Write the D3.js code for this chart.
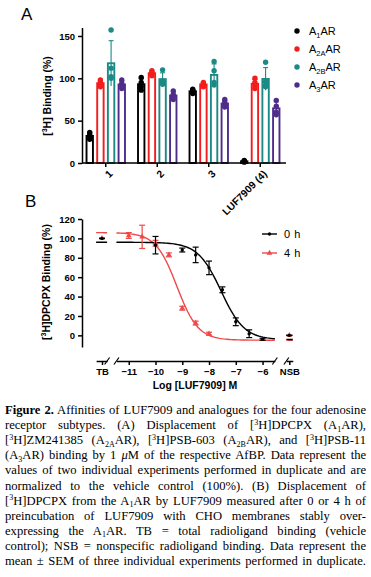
<!DOCTYPE html>
<html>
<head>
<meta charset="utf-8">
<script src="https://cdn.jsdelivr.net/npm/d3@7"></script>
<style>
  body { margin: 0; background: #fff; }
  svg { display: block; }
</style>
</head>
<body>
<div id="fig"></div>
<script>
// ---- panel A: single-point binding (%), individual replicates per bar
const compounds = ["1", "2", "3", "LUF7909 (4)"];
const receptors = ["A1AR", "A2AAR", "A2BAR", "A3AR"];
const receptorSubs = ["1", "2A", "2B", "3"];
const dotsA1 = [[28, 31, 33, 36], [86, 90, 95, 101], [82, 84, 86, 87], [1, 2, 2, 3]];
const dotsA2A = [[90, 93, 96, 98], [103, 105, 107, 109], [90, 92, 94, 95], [88, 91, 95, 100]];
const dotsA2B = [[100, 102, 112, 157], [93, 96, 97, 110], [92, 95, 109, 120], [90, 92, 96, 119]];
const dotsA3 = [[88, 91, 94, 98], [75, 78, 81, 85], [66, 68, 72, 75], [57, 60, 67, 74]];
const ticksA = [0, 50, 100, 150];

// ---- panel B: displacement curves
const logConc0h = [-10, -9, -8.5, -8, -7.5, -7, -6.5, -6];
const binding0h = [93, 88, 83, 69.6, 47, 14, 1.7, -4];
const sem0h = [9, 2, 8, 7, 3, 4, 4, 1];
const logConc4h = [-11, -10.5, -10, -9.5, -9, -8.5, -8];
const binding4h = [103, 101.6, 95, 83, 28, 12.7, 1.7];
const sem4h = [3, 12, 3, 2, 2, 2, 1.5];
const tbBinding = [100, 100];   // 0 h, 4 h
const nsbBinding = [0, 0];
const fit0h = { top: 96, bottom: -4.5, logIC50: -7.55, hill: 1 };
const fit4h = { top: 106, bottom: -5, logIC50: -9.2, hill: 1.1 };
const ticksBy = [0, 20, 40, 60, 80, 100, 120];
const ticksBx = [-11, -10, -9, -8, -7, -6];
const seriesB = ["0 h", "4 h"];

// ---- caption lines: [text, style]
const caption = [
  [["Figure 2.", "b"], [" Affinities of LUF7909 and analogues for the four adenosine", ""]],
  [["receptor subtypes. (A) Displacement of [", ""], ["3", "sup"], ["H]DPCPX (A", ""], ["1", "sub"], ["AR),", ""]],
  [["[", ""], ["3", "sup"], ["H]ZM241385 (A", ""], ["2A", "sub"], ["AR), [", ""], ["3", "sup"], ["H]PSB-603 (A", ""], ["2B", "sub"], ["AR), and [", ""], ["3", "sup"], ["H]PSB-11", ""]],
  [["(A", ""], ["3", "sub"], ["AR) binding by 1 ", ""], ["μ", "i"], ["M of the respective AfBP. Data represent the", ""]],
  [["values of two individual experiments performed in duplicate and are", ""]],
  [["normalized to the vehicle control (100%). (B) Displacement of", ""]],
  [["[", ""], ["3", "sup"], ["H]DPCPX from the A", ""], ["1", "sub"], ["AR by LUF7909 measured after 0 or 4 h of", ""]],
  [["preincubation of LUF7909 with CHO membranes stably over-", ""]],
  [["expressing the A", ""], ["1", "sub"], ["AR. TB = total radioligand binding (vehicle", ""]],
  [["control); NSB = nonspecific radioligand binding. Data represent the", ""]],
  [["mean ± SEM of three individual experiments performed in duplicate.", ""]]
];

const colorsA = ["#000000", "#f21d1d", "#1b8a86", "#4f2c8a"];
const colorsB = ["#000000", "#ef4848"];
const sans = "'Liberation Sans', Arial, sans-serif";

const svg = d3.select("#fig").append("svg")
    .attr("width", 371).attr("height", 577)
    .style("font-family", sans);

// =============== Panel A ===============
const dotsA = [dotsA1, dotsA2A, dotsA2B, dotsA3];
const barsA = [];
compounds.forEach((c, gi) => {
  receptors.forEach((r, ri) => {
    const vals = dotsA[ri][gi];
    barsA.push({ c, ri, vals, mean: d3.mean(vals), sd: d3.deviation(vals) });
  });
});

const xA = d3.scaleBand().domain(compounds).range([80, 286]);
const xInner = d3.scaleBand().domain(d3.range(4)).range([-23.5, 23.5]).padding(0.4);
const yA = d3.scaleLinear().domain([0, 160]).range([163, 27.5]);

svg.append("text").attr("x", 21).attr("y", 20)
    .attr("font-size", 17).text("A");

const gA = svg.append("g");
const barCx = d => xA(d.c) + xA.bandwidth() / 2 + xInner(d.ri) + xInner.bandwidth() / 2;

gA.selectAll("rect.bar").data(barsA).enter().append("rect")
    .attr("class", "bar")
    .attr("x", d => barCx(d) - xInner.bandwidth() / 2)
    .attr("width", xInner.bandwidth())
    .attr("y", d => yA(d.mean))
    .attr("height", d => yA(0) - yA(d.mean))
    .attr("fill", "#fff")
    .attr("stroke", d => colorsA[d.ri])
    .attr("stroke-width", 1.9);

const errA = gA.selectAll("g.err").data(barsA).enter().append("g")
    .attr("stroke", d => colorsA[d.ri]).attr("stroke-width", 1.1);
errA.append("line")
    .attr("x1", barCx).attr("x2", barCx)
    .attr("y1", d => yA(Math.max(0, d.mean - d.sd))).attr("y2", d => yA(d.mean + d.sd));
errA.append("line")
    .attr("x1", d => barCx(d) - 2.5).attr("x2", d => barCx(d) + 2.5)
    .attr("y1", d => yA(d.mean + d.sd)).attr("y2", d => yA(d.mean + d.sd));

gA.selectAll("g.dots").data(barsA).enter().append("g")
  .selectAll("circle").data(d => d.vals.map(v => ({ v, d }))).enter().append("circle")
    .attr("cx", p => barCx(p.d))
    .attr("cy", p => yA(p.v))
    .attr("r", 2.7)
    .attr("fill", p => colorsA[p.d.ri]);

const axA_y = svg.append("g").attr("transform", "translate(82,0)")
    .call(d3.axisLeft(yA).tickValues(ticksA).tickSize(4).tickSizeOuter(0));
const axA_x = svg.append("g").attr("transform", "translate(0,163)")
    .call(d3.axisBottom(xA).tickSize(4).tickSizeOuter(0));
axA_x.select(".domain").attr("d", "M82,0H286");

[axA_x, axA_y].forEach(ax => {
  ax.selectAll(".domain, line").attr("stroke", "#000").attr("stroke-width", 1.5);
  ax.selectAll("text").attr("font-size", 9.5).attr("font-weight", "bold")
    .attr("font-family", sans).attr("fill", "#000");
});
axA_x.selectAll("text")
    .attr("x", 0).attr("y", 0).attr("dy", "0.35em")
    .attr("font-size", 10.3)
    .attr("transform", "translate(5,9) rotate(-45)")
    .style("text-anchor", "end");

const ylabA = svg.append("text")
    .attr("transform", "translate(51,96) rotate(-90)")
    .attr("text-anchor", "middle")
    .attr("font-size", 10.5).attr("font-weight", "bold");
ylabA.append("tspan").text("[");
ylabA.append("tspan").attr("font-size", 7).attr("dy", -4).text("3");
ylabA.append("tspan").attr("dy", 4).text("H] Binding (%)");

// legend A
const legA = svg.append("g").selectAll("g").data(receptors).enter().append("g")
    .attr("transform", (d, i) => `translate(297,${31 + i * 18})`);
legA.append("circle").attr("r", 2.7).attr("fill", (d, i) => colorsA[i]);
const legAText = legA.append("text").attr("x", 12).attr("dy", "0.36em").attr("font-size", 11);
legAText.append("tspan").text("A");
legAText.append("tspan").attr("font-size", 7.5).attr("dy", 3).text((d, i) => receptorSubs[i]);
legAText.append("tspan").attr("dy", -3).text("AR");

// =============== Panel B ===============
svg.append("text").attr("x", 25).attr("y", 207)
    .attr("font-size", 17).text("B");

const xB = d3.scaleLinear().domain([-12, -5]).range([102, 289.3]);
const yB = d3.scaleLinear().domain([-12, 120]).range([347, 219]);
const segTB = [-12.22, -11.81], segMain = [-11.46, -5.54], segNSB = [-5.11, -4.87];

const fitCurve = f => x => f.bottom + (f.top - f.bottom) / (1 + Math.pow(10, f.hill * (x - f.logIC50)));
const line = d3.line().x(d => xB(d[0])).y(d => yB(d[1]));
const gB = svg.append("g");

[fit4h, fit0h].forEach((f, k) => {
  const col = k === 0 ? colorsB[1] : colorsB[0];
  const fn = fitCurve(f);
  [segTB, segMain, segNSB].forEach(seg => {
    const pts = d3.range(seg[0], seg[1] + 1e-9, (seg[1] - seg[0]) / 80).map(x => [x, fn(x)]);
    gB.append("path").attr("d", line(pts)).attr("fill", "none")
      .attr("stroke", col).attr("stroke-width", 1.4);
  });
});

function drawPoints(xs, ys, es, col, sym, size) {
  const pts = xs.map((x, i) => ({ x, y: ys[i], e: es[i] }));
  const g = gB.append("g");
  const eb = g.selectAll("g").data(pts).enter().append("g")
      .attr("stroke", col).attr("stroke-width", 1.2);
  eb.append("line").attr("x1", d => xB(d.x)).attr("x2", d => xB(d.x))
      .attr("y1", d => yB(d.y - d.e)).attr("y2", d => yB(d.y + d.e));
  [-1, 1].forEach(s => eb.append("line")
      .attr("x1", d => xB(d.x) - 3).attr("x2", d => xB(d.x) + 3)
      .attr("y1", d => yB(d.y + s * d.e)).attr("y2", d => yB(d.y + s * d.e)));
  g.selectAll("path").data(pts).enter().append("path")
      .attr("d", d3.symbol(sym, size))
      .attr("transform", d => `translate(${xB(d.x)},${yB(d.y)})`)
      .attr("fill", col);
}
drawPoints(logConc4h.concat([-12, -5]), binding4h.concat([tbBinding[1], nsbBinding[1]]),
           sem4h.concat([0, 0]), colorsB[1], d3.symbolTriangle, 14);
drawPoints(logConc0h.concat([-12, -5]), binding0h.concat([tbBinding[0], nsbBinding[0]]),
           sem0h.concat([0, 0]), colorsB[0], d3.symbolCircle, 9);

// axes B
const axB_y = svg.append("g").attr("transform", "translate(82,0)")
    .call(d3.axisLeft(yB).tickValues(ticksBy).tickSize(4).tickSizeOuter(0));

const axisSeg = (seg, ticks, fmt) => {
  const sc = xB.copy().domain(seg).range(seg.map(xB));
  return svg.append("g").attr("transform", "translate(0,361)")
      .call(d3.axisBottom(sc).tickValues(ticks).tickFormat(fmt).tickSize(4).tickSizeOuter(0));
};
const axTB = axisSeg(segTB, [-12], () => "TB");
const axMain = axisSeg(segMain, ticksBx, d3.format("d"));
const axNSB = axisSeg(segNSB, [-5], () => "NSB");

[axB_y, axTB, axMain, axNSB].forEach(ax => {
  ax.selectAll(".domain, line").attr("stroke", "#000").attr("stroke-width", 1.5);
  ax.selectAll("text").attr("font-size", 9.5).attr("font-weight", "bold")
    .attr("font-family", sans).attr("fill", "#000");
});
[axTB, axMain, axNSB].forEach(ax => ax.selectAll("text").attr("y", 7));

// axis break marks
const breaks = [segTB[1], segMain[0], segMain[1], segNSB[0]];
svg.append("g").selectAll("line").data(breaks).enter().append("line")
    .attr("x1", d => xB(d) - 2.5).attr("x2", d => xB(d) + 2.5)
    .attr("y1", 361 + 3.5).attr("y2", 361 - 3.5)
    .attr("stroke", "#000").attr("stroke-width", 1.2);

const ylabB = svg.append("text")
    .attr("transform", "translate(50,282) rotate(-90)")
    .attr("text-anchor", "middle")
    .attr("font-size", 10.5).attr("font-weight", "bold");
ylabB.append("tspan").text("[");
ylabB.append("tspan").attr("font-size", 7).attr("dy", -4).text("3");
ylabB.append("tspan").attr("dy", 4).text("H]DPCPX Binding (%)");

svg.append("text").attr("x", 195).attr("y", 389)
    .attr("text-anchor", "middle")
    .attr("font-size", 10.5).attr("font-weight", "bold")
    .text("Log [LUF7909] M");

// legend B
const legB = svg.append("g").selectAll("g").data(seriesB).enter().append("g")
    .attr("transform", (d, i) => `translate(262,${234 + i * 19})`);
legB.append("line").attr("x1", 0).attr("x2", 15)
    .attr("stroke", (d, i) => colorsB[i]).attr("stroke-width", 1.4);
legB.append("path")
    .attr("d", (d, i) => d3.symbol(i === 0 ? d3.symbolCircle : d3.symbolTriangle, i === 0 ? 9 : 14)())
    .attr("transform", "translate(7.5,0)")
    .attr("fill", (d, i) => colorsB[i]);
legB.append("text").attr("x", 22).attr("dy", "0.36em")
    .attr("font-size", 11).attr("letter-spacing", 0.6).text(d => d);

// =============== Caption ===============
const capX = 5, capW = 361, capY0 = 414, capLH = 15.1;
caption.forEach((segs, li) => {
  const t = svg.append("text")
      .attr("x", capX).attr("y", capY0 + li * capLH)
      .attr("font-family", "'Liberation Serif', 'Times New Roman', serif")
      .attr("font-size", 12.6);
  let shift = 0;
  segs.forEach(([txt, st]) => {
    const sp = t.append("tspan").text(txt);
    let target = 0;
    if (st === "b") sp.attr("font-weight", "bold");
    if (st === "i") sp.attr("font-style", "italic");
    if (st === "sup") { sp.attr("font-size", 8); target = -4.5; }
    if (st === "sub") { sp.attr("font-size", 8); target = 2.5; }
    if (target !== shift) { sp.attr("dy", target - shift); shift = target; }
  });
  const nSpaces = segs.map(s => s[0]).join("").split(" ").length - 1;
  const w = t.node().getComputedTextLength();
  if (nSpaces > 0) t.attr("word-spacing", (capW - w) / nSpaces);
});
</script>
</body>
</html>
